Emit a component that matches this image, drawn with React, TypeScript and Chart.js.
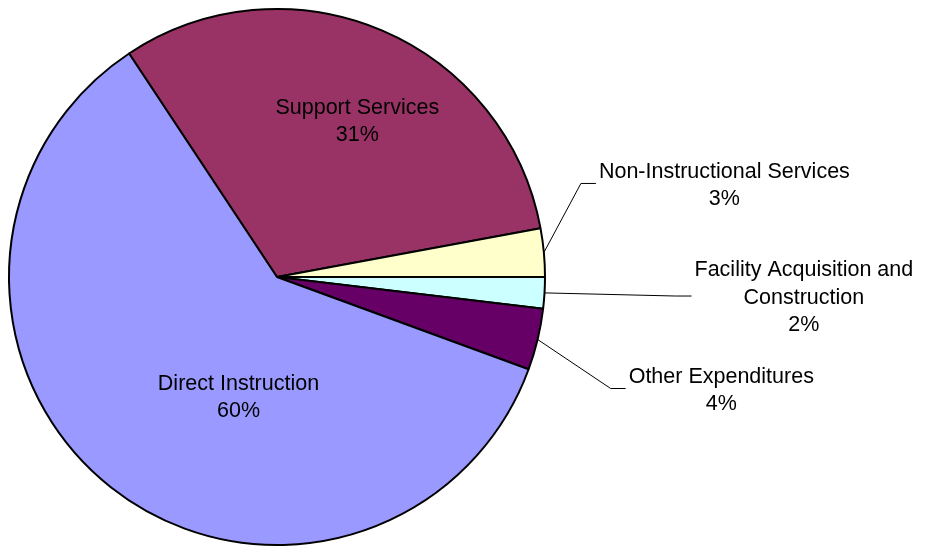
import React, { useEffect, useRef } from "react";
import { Chart, registerables } from "chart.js";

Chart.register(...registerables);

const categories = [
  "Support Services",
  "Non-Instructional Services",
  "Facility Acquisition and Construction",
  "Other Expenditures",
  "Direct Instruction",
];
const labelLines = [
  ["Support Services"],
  ["Non-Instructional Services"],
  ["Facility Acquisition and", "Construction"],
  ["Other Expenditures"],
  ["Direct Instruction"],
];
const values = [31.4, 2.9, 1.9, 3.7, 60.1];
const colors = ["#993366", "#FFFFCC", "#CCFFFF", "#660066", "#9999FF"];

// label placement, relative to pie center in units of radius
type Place =
  | { mode: "inside"; angle: number; dist: number }
  | { mode: "outside"; ex: number; ey: number; tail: number };
const placements: Place[] = [
  { mode: "inside", angle: 27, dist: 0.66 },
  { mode: "outside", ex: 1.134, ey: -0.349, tail: 15 },
  { mode: "outside", ex: 1.487, ey: 0.071, tail: 16 },
  { mode: "outside", ex: 1.245, ey: 0.416, tail: 15 },
  { mode: "inside", angle: 198, dist: 0.465 },
];

const FONT = '21.5px "Liberation Sans", Arial, sans-serif';
const LINE_H = 27.5;
const TEXT_DY = 2;

const labelPlugin = {
  id: "pieLabels",
  afterDatasetsDraw(chart: any) {
    const ctx = chart.ctx as CanvasRenderingContext2D;
    const meta = chart.getDatasetMeta(0);
    const data = chart.data.datasets[0].data as number[];
    const total = data.reduce((a, b) => a + b, 0);
    ctx.save();
    ctx.font = FONT;
    ctx.fillStyle = "#000";
    ctx.textBaseline = "middle";
    meta.data.forEach((arc: any, i: number) => {
      const { x, y, outerRadius: r, startAngle, endAngle } = arc.getProps(
        ["x", "y", "outerRadius", "startAngle", "endAngle"],
        true
      );
      const lines = [...labelLines[i], Math.round((data[i] / total) * 100) + "%"];
      const p = placements[i];
      if (p.mode === "inside") {
        const th = (p.angle * Math.PI) / 180;
        const cx = x + Math.sin(th) * p.dist * r;
        const cy = y - Math.cos(th) * p.dist * r;
        ctx.textAlign = "center";
        lines.forEach((t, k) => {
          ctx.fillText(t, cx, cy + TEXT_DY + (k - (lines.length - 1) / 2) * LINE_H);
        });
      } else {
        const mid = (startAngle + endAngle) / 2;
        const sx = x + Math.cos(mid) * r;
        const sy = y + Math.sin(mid) * r;
        const exx = x + p.ex * r;
        const eyy = y + p.ey * r;
        const endX = exx + p.tail;
        ctx.strokeStyle = "#000";
        ctx.lineWidth = 1;
        ctx.beginPath();
        ctx.moveTo(sx, sy);
        ctx.lineTo(exx, eyy);
        ctx.lineTo(endX, eyy);
        ctx.stroke();
        const w = Math.max(...lines.map((t) => ctx.measureText(t).width));
        const cx = endX + 3 + w / 2;
        ctx.textAlign = "center";
        lines.forEach((t, k) => {
          ctx.fillText(t, cx, eyy + TEXT_DY + (k - (lines.length - 1) / 2) * LINE_H);
        });
      }
    });
    ctx.restore();
  },
};

export default function App() {
  const ref = useRef<HTMLCanvasElement | null>(null);
  useEffect(() => {
    document.body.style.margin = "0";
    const canvas = ref.current!;
    const chart = new Chart(canvas, {
      type: "pie",
      data: {
        labels: categories,
        datasets: [
          {
            data: values,
            backgroundColor: colors,
            borderColor: "#000",
            borderWidth: 2,
          },
        ],
      },
      options: {
        responsive: false,
        animation: false,
        rotation: -33.5,
        layout: { padding: { left: 8, top: 8, right: 389, bottom: 2 } },
        plugins: {
          legend: { display: false },
          tooltip: { enabled: false },
        },
      },
      plugins: [labelPlugin],
    });
    return () => chart.destroy();
  }, []);
  return (
    <div style={{ width: 935, height: 548, background: "#fff" }}>
      <canvas ref={ref} width={935} height={548} style={{ display: "block" }} />
    </div>
  );
}
